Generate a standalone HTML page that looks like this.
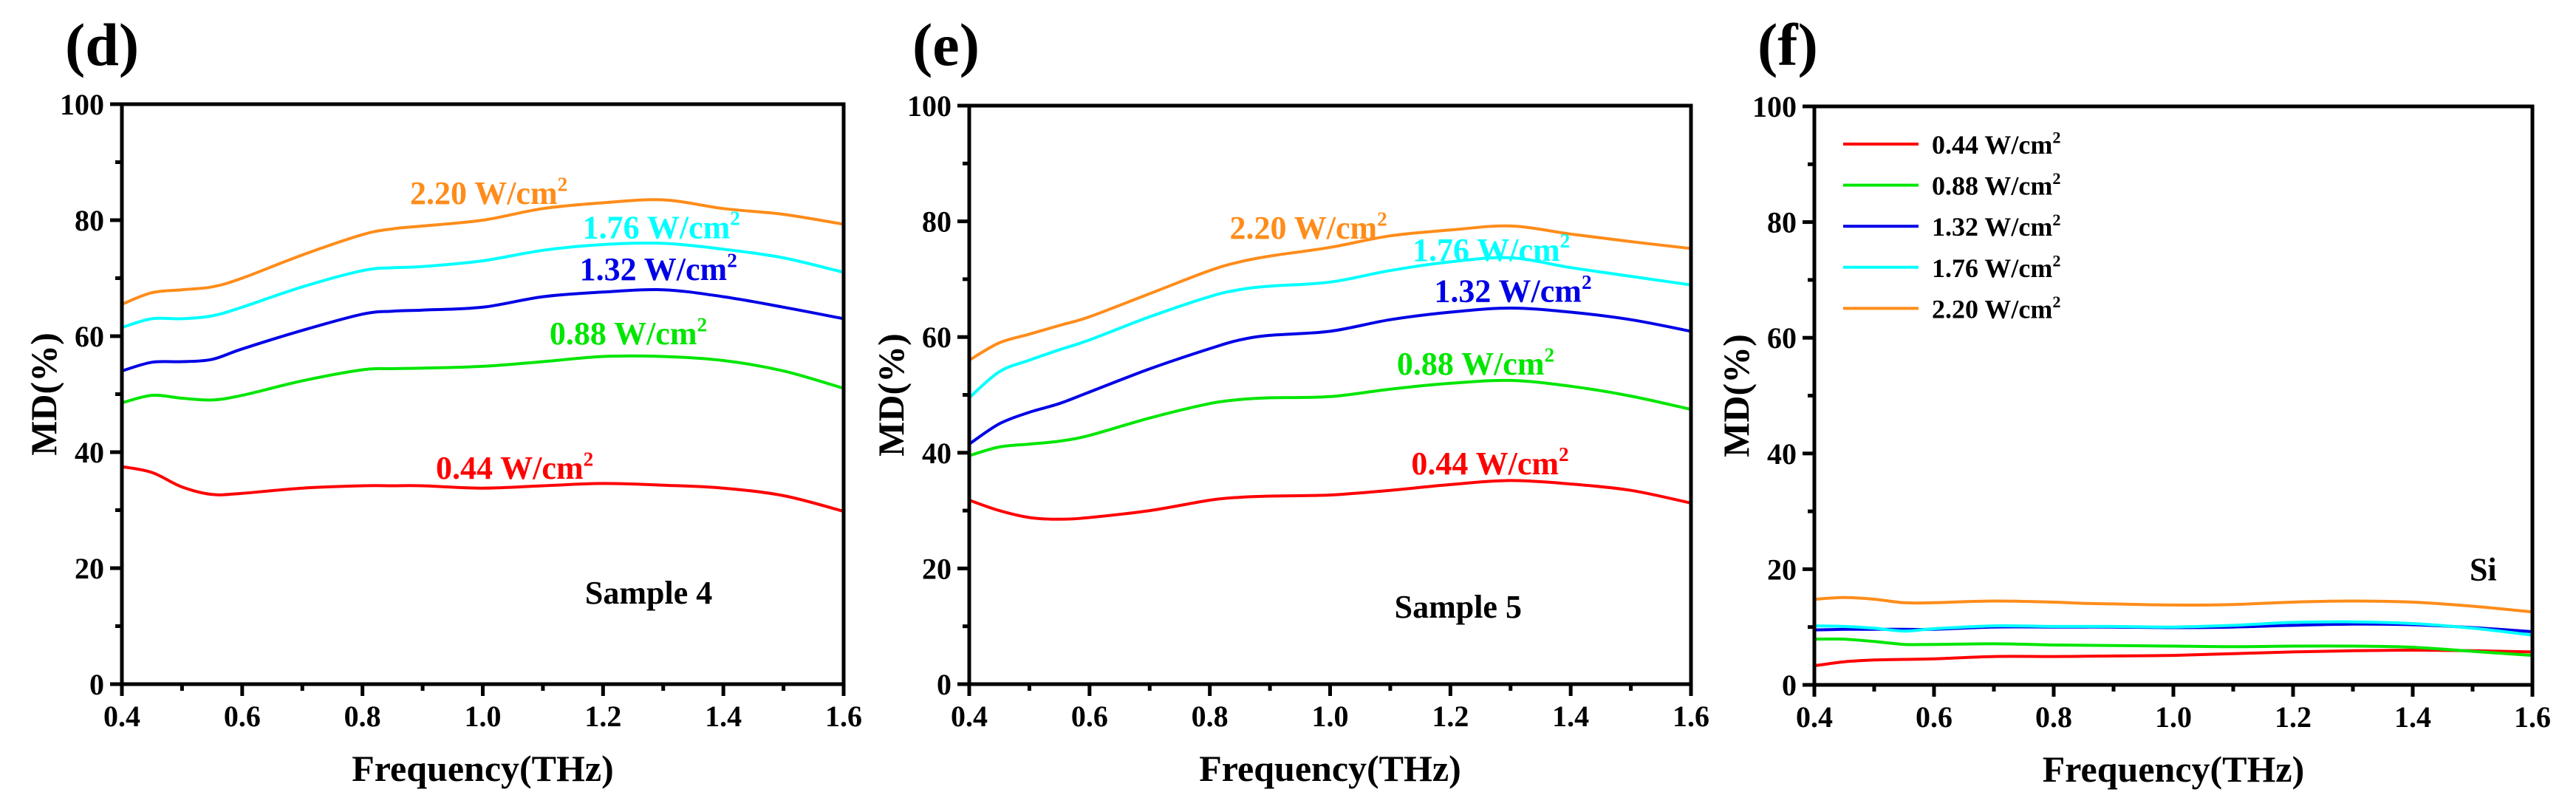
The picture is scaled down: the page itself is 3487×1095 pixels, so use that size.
<!DOCTYPE html>
<html><head><meta charset="utf-8">
<style>
html,body{margin:0;padding:0;background:#fff;}
svg{display:block;}
text{font-family:"Liberation Serif",serif;font-weight:bold;}
</style></head>
<body>
<svg id="fig" width="3487" height="1095" viewBox="0 0 3487 1095" xmlns="http://www.w3.org/2000/svg"></svg>
<script>
const freq = [0.4,0.45,0.5,0.55,0.6,0.7,0.8,0.85,0.9,1.0,1.1,1.2,1.3,1.4,1.5,1.6];
const seriesNames = ["0.44","0.88","1.32","1.76","2.20"];
const seriesColors = ["#ff0000","#00e600","#0000e6","#00ffff","#ff8c1a"];
const xTicks = [0.4,0.6,0.8,1.0,1.2,1.4,1.6];
const xTickLabels = ["0.4","0.6","0.8","1.0","1.2","1.4","1.6"];
const yTicks = [0,20,40,60,80,100];
const yTickLabels = ["0","20","40","60","80","100"];
const d_red = [37.5,36.5,34,32.7,32.9,33.8,34.2,34.2,34.2,33.8,34.2,34.6,34.3,33.8,32.5,29.8];
const d_green = [48.5,49.8,49.3,49,49.8,52.3,54.2,54.4,54.5,54.8,55.6,56.5,56.5,55.8,54,51];
const d_blue = [54,55.5,55.6,56,57.8,61,63.8,64.3,64.5,65,66.8,67.6,68,66.8,65,63];
const d_cyan = [61.5,63,63,63.5,65,68.5,71.3,71.8,72,73,74.8,75.8,76,75,73.5,71];
const d_orange = [65.5,67.5,68,68.5,70,74,77.5,78.5,79,80,82,83,83.5,82,81,79.3];
const e_red = [31.8,30,28.8,28.5,28.8,30,31.8,32.3,32.5,32.7,33.5,34.5,35.2,34.6,33.5,31.3];
const e_green = [39.5,41,41.5,42,43,46,48.5,49.2,49.5,49.7,51,52,52.5,51.5,49.8,47.5];
const e_blue = [41.5,45,47,48.5,50.5,54.5,58,59.5,60.3,61,63,64.3,65,64.3,63,61];
const e_cyan = [49.5,54,56,57.8,59.5,63.5,67,68.2,68.8,69.5,71.5,73,73.7,72,70.5,69];
const e_orange = [56,59,60.5,62,63.5,67.5,71.5,73,74,75.5,77.5,78.5,79.2,77.8,76.5,75.3];
const f_red = [3.3,4,4.3,4.4,4.5,4.9,4.9,4.95,5,5.1,5.4,5.7,5.9,6,5.9,5.7];
const f_green = [7.9,7.9,7.5,7,7,7.1,6.9,6.85,6.8,6.7,6.6,6.7,6.7,6.5,5.8,5.1];
const f_blue = [9.5,9.6,9.6,9.6,9.6,10,10,10,10,9.9,10,10.3,10.5,10.4,9.9,9.2];
const f_cyan = [10.2,10.1,9.8,9.3,9.7,10.2,10.1,10.1,10.1,10,10.3,10.8,10.9,10.6,9.8,8.6];
const f_orange = [14.8,15.1,14.8,14.2,14.2,14.5,14.3,14.1,14,13.8,13.9,14.3,14.5,14.3,13.6,12.6];
// annotation anchor values (data coords)
const d_labelX = [0.922,1.111,1.161,1.166,0.879];
const d_labelY = [35.4,58.6,69.7,76.9,82.8];
const e_labelX = [1.135,1.111,1.173,1.137,0.833];
const e_labelY = [36.3,53.5,66.1,73.2,77.0];

const NS="http://www.w3.org/2000/svg";
const svg=document.getElementById('fig');
function mk(tag,attrs,parent){const el=document.createElementNS(NS,tag);for(const k in attrs)el.setAttribute(k,attrs[k]);(parent||svg).appendChild(el);return el;}

function smoothPath(pts){
  let d=`M${pts[0][0]},${pts[0][1]}`;
  for(let i=0;i<pts.length-1;i++){
    const p0=pts[Math.max(0,i-1)],p1=pts[i],p2=pts[i+1],p3=pts[Math.min(pts.length-1,i+2)];
    const c1x=p1[0]+(p2[0]-p0[0])/6,c1y=p1[1]+(p2[1]-p0[1])/6;
    const c2x=p2[0]-(p3[0]-p1[0])/6,c2y=p2[1]-(p3[1]-p1[1])/6;
    d+=` C${c1x.toFixed(1)},${c1y.toFixed(1)} ${c2x.toFixed(1)},${c2y.toFixed(1)} ${p2[0].toFixed(1)},${p2[1].toFixed(1)}`;
  }
  return d;
}

function powerText(g,x,y,val,color,size,anchor){
  const t=mk('text',{x:x,y:y,fill:color,'font-size':size,'text-anchor':anchor||'start'},g);
  t.appendChild(document.createTextNode(val+' W/cm'));
  const s=mk('tspan',{dy:-size*0.4,'font-size':size*0.62},t);
  s.textContent='2';
  return t;
}

function panel(id,L,R,T,B,letter,series,labX,labY,sampleText,sx,sy,legend){
  const g=mk('g',{});
  
  
  const xs=v=>L+(v-0.4)/1.2*(R-L);
  const ys=v=>B-v/100*(B-T);
  const lt=mk('text',{x:L-77,y:88,'font-size':82,fill:'#000'},g);
  lt.textContent='('+letter+')';
  
  
  // series
  series.forEach((arr,i)=>{
    const pts=freq.map((f,j)=>[xs(f),ys(arr[j])]);
    const p=mk('path',{d:smoothPath(pts),fill:'none',stroke:seriesColors[i],'stroke-width':4},g);
    
    
  });
  // frame
  const fr=mk('rect',{x:L,y:T,width:R-L,height:B-T,fill:'none',stroke:'#000','stroke-width':5},g);
  
  
  // x ticks
  for(let v=0.4;v<=1.6001;v+=0.1){
    const major=Math.round(v*10)%2===0;
    const x=xs(v);
    const tk=mk('line',{x1:x,x2:x,y1:B,y2:B+(major?16:9),stroke:'#000','stroke-width':5},g);
    
    
  }
  xTicks.forEach((v,i)=>{
    const t=mk('text',{x:xs(v),y:B+57,'font-size':40,'text-anchor':'middle',fill:'#000'},g);
    t.textContent=xTickLabels[i];
    
    
  });
  for(let v=0;v<=100;v+=10){
    const major=v%20===0;
    const y=ys(v);
    const tk=mk('line',{x1:L,x2:L-(major?16:9),y1:y,y2:y,stroke:'#000','stroke-width':5},g);
    
    
  }
  yTicks.forEach((v,i)=>{
    const t=mk('text',{x:L-24,y:ys(v)+14,'font-size':40,'text-anchor':'end',fill:'#000'},g);
    t.textContent=yTickLabels[i];
    
    
  });
  const xt=mk('text',{x:(L+R)/2,y:B+131,'font-size':50,'text-anchor':'middle',fill:'#000'},g);
  xt.textContent='Frequency(THz)';
  
  
  const cy=(T+B)/2;
  const yt=mk('text',{x:L-106,y:cy,'font-size':50,'text-anchor':'middle',fill:'#000',transform:`rotate(-90 ${L-106} ${cy})`,dy:17},g);
  yt.textContent='MD(%)';
  
  
  if(labX){
    labX.forEach((lx,i)=>{
      const t=powerText(g,xs(lx),ys(labY[i]),seriesNames[i],seriesColors[i],44);
      
      
    });
  }
  const st=mk('text',{x:xs(sx),y:ys(sy),'font-size':44,fill:'#000'},g);
  st.textContent=sampleText;
  
  
  if(legend){
    seriesNames.forEach((n,i)=>{
      const y=T+51+i*55.6;
      const ln=mk('line',{x1:L+39,x2:L+141,y1:y,y2:y,stroke:seriesColors[i],'stroke-width':4},g);
      
      
      const t=powerText(g,L+159,y+13,n,'#000',36);
      
      
    });
  }
}
panel('d',165,1142,141,926,'d',[d_red,d_green,d_blue,d_cyan,d_orange],d_labelX,d_labelY,'Sample 4',1.17,13.9,false);
panel('e',1312,2289,143,926,'e',[e_red,e_green,e_blue,e_cyan,e_orange],e_labelX,e_labelY,'Sample 5',1.107,11.5,false);
panel('f',2456,3428,144,927,'f',[f_red,f_green,f_blue,f_cyan,f_orange],null,null,'Si',1.495,18.1,true);
</script>
</body></html>
